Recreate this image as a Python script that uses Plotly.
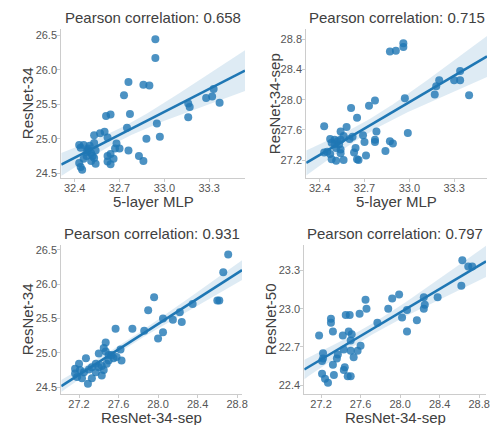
import numpy as np
import plotly.graph_objects as go

# ---------------- data ----------------
p1_x = [32.94, 32.94, 32.76, 32.86, 32.90, 32.73, 32.61, 32.64, 32.77, 32.75, 32.95, 32.97, 32.88,
        32.53, 32.57, 32.60, 32.62, 32.43, 32.46, 32.53, 32.49, 32.48, 32.51, 32.48, 32.53, 32.54,
        32.43, 32.44, 32.45, 32.62, 32.64, 32.62, 32.64, 32.68, 32.67, 32.70, 32.76, 32.83, 32.86,
        33.16, 33.17, 33.16, 33.28, 33.32, 33.33, 33.37, 32.50, 32.49, 32.52, 32.44, 32.54, 32.46,
        32.51, 32.66]
p1_y = [26.44, 26.17, 25.82, 25.78, 25.77, 25.63, 25.33, 25.35, 25.36, 25.16, 25.22, 25.03, 25.00,
        25.05, 25.08, 25.10, 25.02, 24.91, 24.91, 24.94, 24.86, 24.81, 24.79, 24.75, 24.72, 24.64,
        24.65, 24.59, 24.55, 24.75, 24.78, 24.67, 24.63, 24.93, 24.86, 24.86, 24.83, 24.75, 24.68,
        25.51, 25.46, 25.31, 25.59, 25.61, 25.72, 25.52, 24.90, 24.83, 24.75, 24.87, 24.83, 24.71,
        24.68, 24.71]

p2_x = [32.87, 32.91, 32.96, 32.96, 32.97, 32.99, 33.17, 33.18, 33.20, 33.30, 33.34, 33.34, 33.40,
        32.77, 32.73, 32.61, 32.65, 32.43, 32.58, 32.54, 32.78, 32.69, 32.62, 32.70, 32.77, 32.77,
        32.87, 32.89, 32.84, 32.71, 32.64, 32.63, 32.65, 32.66, 32.47, 32.50, 32.52, 32.54, 32.48,
        32.50, 32.53, 32.45, 32.43, 32.47, 32.54, 32.54, 32.48, 32.51, 32.56, 32.60, 32.51, 32.56]
p2_y = [28.64, 28.65, 28.75, 28.70, 28.02, 27.56, 28.07, 28.18, 28.26, 28.26, 28.26, 28.38, 28.06,
        27.99, 27.92, 27.89, 27.76, 27.65, 27.64, 27.58, 27.58, 27.53, 27.51, 27.44, 27.47, 27.44,
        27.45, 27.42, 27.32, 27.26, 27.36, 27.30, 27.21, 27.20, 27.48, 27.47, 27.45, 27.47, 27.43,
        27.41, 27.41, 27.31, 27.30, 27.28, 27.34, 27.29, 27.21, 27.19, 27.20, 27.48, 27.36, 27.52]

p3_x = [28.71, 28.66, 27.96, 27.90, 28.60, 28.62, 28.35, 28.22, 28.05, 28.15, 28.24, 28.05, 28.00,
        27.86, 27.74, 27.57, 27.62, 27.63, 27.47, 27.45, 27.47, 27.40, 27.53, 27.55, 27.50, 27.27,
        27.20, 27.16, 27.21, 27.16, 27.25, 27.30, 27.33, 27.37, 27.40, 27.43, 27.45, 27.43, 27.33,
        27.29, 27.18, 27.23, 27.50, 27.48, 27.58, 27.37]
p3_y = [26.43, 26.17, 25.81, 25.62, 25.76, 25.76, 25.71, 25.59, 25.50, 25.48, 25.45, 25.30, 25.21,
        25.32, 25.35, 25.35, 25.05, 24.89, 25.15, 25.07, 25.02, 24.99, 24.97, 24.92, 24.89, 24.92,
        24.84, 24.77, 24.75, 24.70, 24.72, 24.76, 24.79, 24.84, 24.79, 24.81, 24.75, 24.67, 24.63,
        24.55, 24.65, 24.63, 24.97, 24.84, 24.94, 24.72]

p4_x = [28.63, 28.69, 28.73, 28.62, 28.38, 28.24, 28.25, 28.24, 28.17, 28.07, 28.02, 28.07, 27.99,
        27.92, 27.88, 27.77, 27.65, 27.66, 27.59, 27.49, 27.45, 27.30, 27.30, 27.18, 27.32, 27.48,
        27.51, 27.42, 27.50, 27.22, 27.22, 27.21, 27.37, 27.36, 27.43, 27.50, 27.53, 27.57, 27.60,
        27.32, 27.44, 27.43, 27.21, 27.24, 27.27, 27.33, 27.47, 27.50]
p4_y = [23.38, 23.33, 23.33, 23.18, 23.09, 23.09, 23.03, 23.00, 22.91, 22.99, 22.93, 22.82, 23.11,
        23.08, 23.00, 22.89, 23.07, 23.00, 22.96, 22.95, 22.95, 22.92, 22.89, 22.79, 22.82, 22.82,
        22.80, 22.79, 22.75, 22.65, 22.61, 22.59, 22.64, 22.61, 22.68, 22.67, 22.62, 22.67, 22.71,
        22.56, 22.54, 22.52, 22.49, 22.45, 22.42, 22.48, 22.47, 22.47]

titles = ["Pearson correlation: 0.658", "Pearson correlation: 0.715",
          "Pearson correlation: 0.931", "Pearson correlation: 0.797"]
x_labels = ["5-layer MLP", "5-layer MLP", "ResNet-34-sep", "ResNet-34-sep"]
y_labels = ["ResNet-34", "ResNet-34-sep", "ResNet-34", "ResNet-50"]
x_ticks = [[32.4, 32.7, 33.0, 33.3], [32.4, 32.7, 33.0, 33.3],
           [27.2, 27.6, 28.0, 28.4, 28.8], [27.2, 27.6, 28.0, 28.4, 28.8]]
y_ticks = [[24.5, 25.0, 25.5, 26.0, 26.5], [27.2, 27.6, 28.0, 28.4, 28.8],
           [24.5, 25.0, 25.5, 26.0, 26.5], [22.4, 22.7, 23.0, 23.3]]
x_ranges = [[32.31, 33.54], [32.31, 33.52], [27.02, 28.85], [27.03, 28.87]]
y_ranges = [[24.43, 26.59], [26.96, 28.94], [24.40, 26.57], [22.33, 23.50]]

panels = [(p1_x, p1_y), (p2_x, p2_y), (p3_x, p3_y), (p4_x, p4_y)]

# ---------------- layout geometry (pixels -> paper) ----------------
W, H = 495, 425
px_boxes = [(62, 248, 28, 178), (310, 493, 28, 178), (62, 245, 245, 395), (308, 492, 245, 395)]
title_y_px = [17, 17, 234, 234]
xlabel_y_px = [201, 201, 418, 418]
ylabel_x_px = [28, 278, 28, 274]

BLUE = "#1f77b4"
TXT = "#404040"
FONT = "Liberation Sans, Arial, sans-serif"

fig = go.Figure()
layout = dict(
    width=W, height=H, margin=dict(l=0, r=0, t=0, b=0),
    paper_bgcolor="white", plot_bgcolor="white", showlegend=False,
    font=dict(family=FONT, color=TXT),
)
annotations = []

for i, (xs, ys) in enumerate(panels):
    k = "" if i == 0 else str(i + 1)
    xa, ya = "x" + k, "y" + k
    xs_a, ys_a = np.array(xs), np.array(ys)
    n = len(xs_a)
    b1, b0 = np.polyfit(xs_a, ys_a, 1)
    grid = np.linspace(x_ranges[i][0], x_ranges[i][1], 100)
    fit = b0 + b1 * grid
    resid = ys_a - (b0 + b1 * xs_a)
    s = np.sqrt(np.sum(resid ** 2) / (n - 2))
    sxx = np.sum((xs_a - xs_a.mean()) ** 2)
    half = 2.01 * s * np.sqrt(1.0 / n + (grid - xs_a.mean()) ** 2 / sxx)

    fig.add_trace(go.Scatter(
        x=np.concatenate([grid, grid[::-1]]),
        y=np.concatenate([fit + half, (fit - half)[::-1]]),
        fill="toself", fillcolor="rgba(31,119,180,0.15)", line=dict(width=0),
        mode="lines", hoverinfo="skip", xaxis=xa, yaxis=ya))
    fig.add_trace(go.Scatter(
        x=xs, y=ys, mode="markers",
        marker=dict(size=8, color=BLUE, opacity=0.8, line=dict(width=0)),
        xaxis=xa, yaxis=ya))
    fig.add_trace(go.Scatter(
        x=grid, y=fit, mode="lines", line=dict(color=BLUE, width=2.6),
        xaxis=xa, yaxis=ya))

    l, r, t, b = px_boxes[i]
    axis_common = dict(
        showgrid=False, zeroline=False, showline=True, linecolor="#cccccc", linewidth=1,
        ticks="outside", ticklen=3, tickcolor="#cccccc", tickwidth=1,
        tickfont=dict(family=FONT, size=11, color="#555555"), tickformat=".1f",
    )
    layout["xaxis" + k] = dict(
        axis_common, domain=[l / W, r / W], range=x_ranges[i], tickvals=x_ticks[i],
        anchor=ya, ticklabelstandoff=-3)
    layout["yaxis" + k] = dict(
        axis_common, domain=[1 - b / H, 1 - t / H], range=y_ranges[i], tickvals=y_ticks[i],
        anchor=xa, ticklabelstandoff=-2)

    cx = (l + r) / 2 / W
    annotations.append(dict(
        text=titles[i], x=cx, y=1 - title_y_px[i] / H, xref="paper", yref="paper",
        showarrow=False, xanchor="center", yanchor="middle",
        font=dict(family=FONT, size=15, color=TXT)))
    annotations.append(dict(
        text=x_labels[i], x=cx, y=1 - xlabel_y_px[i] / H, xref="paper", yref="paper",
        showarrow=False, xanchor="center", yanchor="middle",
        font=dict(family=FONT, size=15, color=TXT)))
    annotations.append(dict(
        text=y_labels[i], x=ylabel_x_px[i] / W, y=1 - (t + b) / 2 / H, xref="paper",
        yref="paper", showarrow=False, xanchor="center", yanchor="middle", textangle=-90,
        font=dict(family=FONT, size=15, color=TXT)))

layout["annotations"] = annotations
fig.update_layout(**layout)
fig.write_html("out.html")
